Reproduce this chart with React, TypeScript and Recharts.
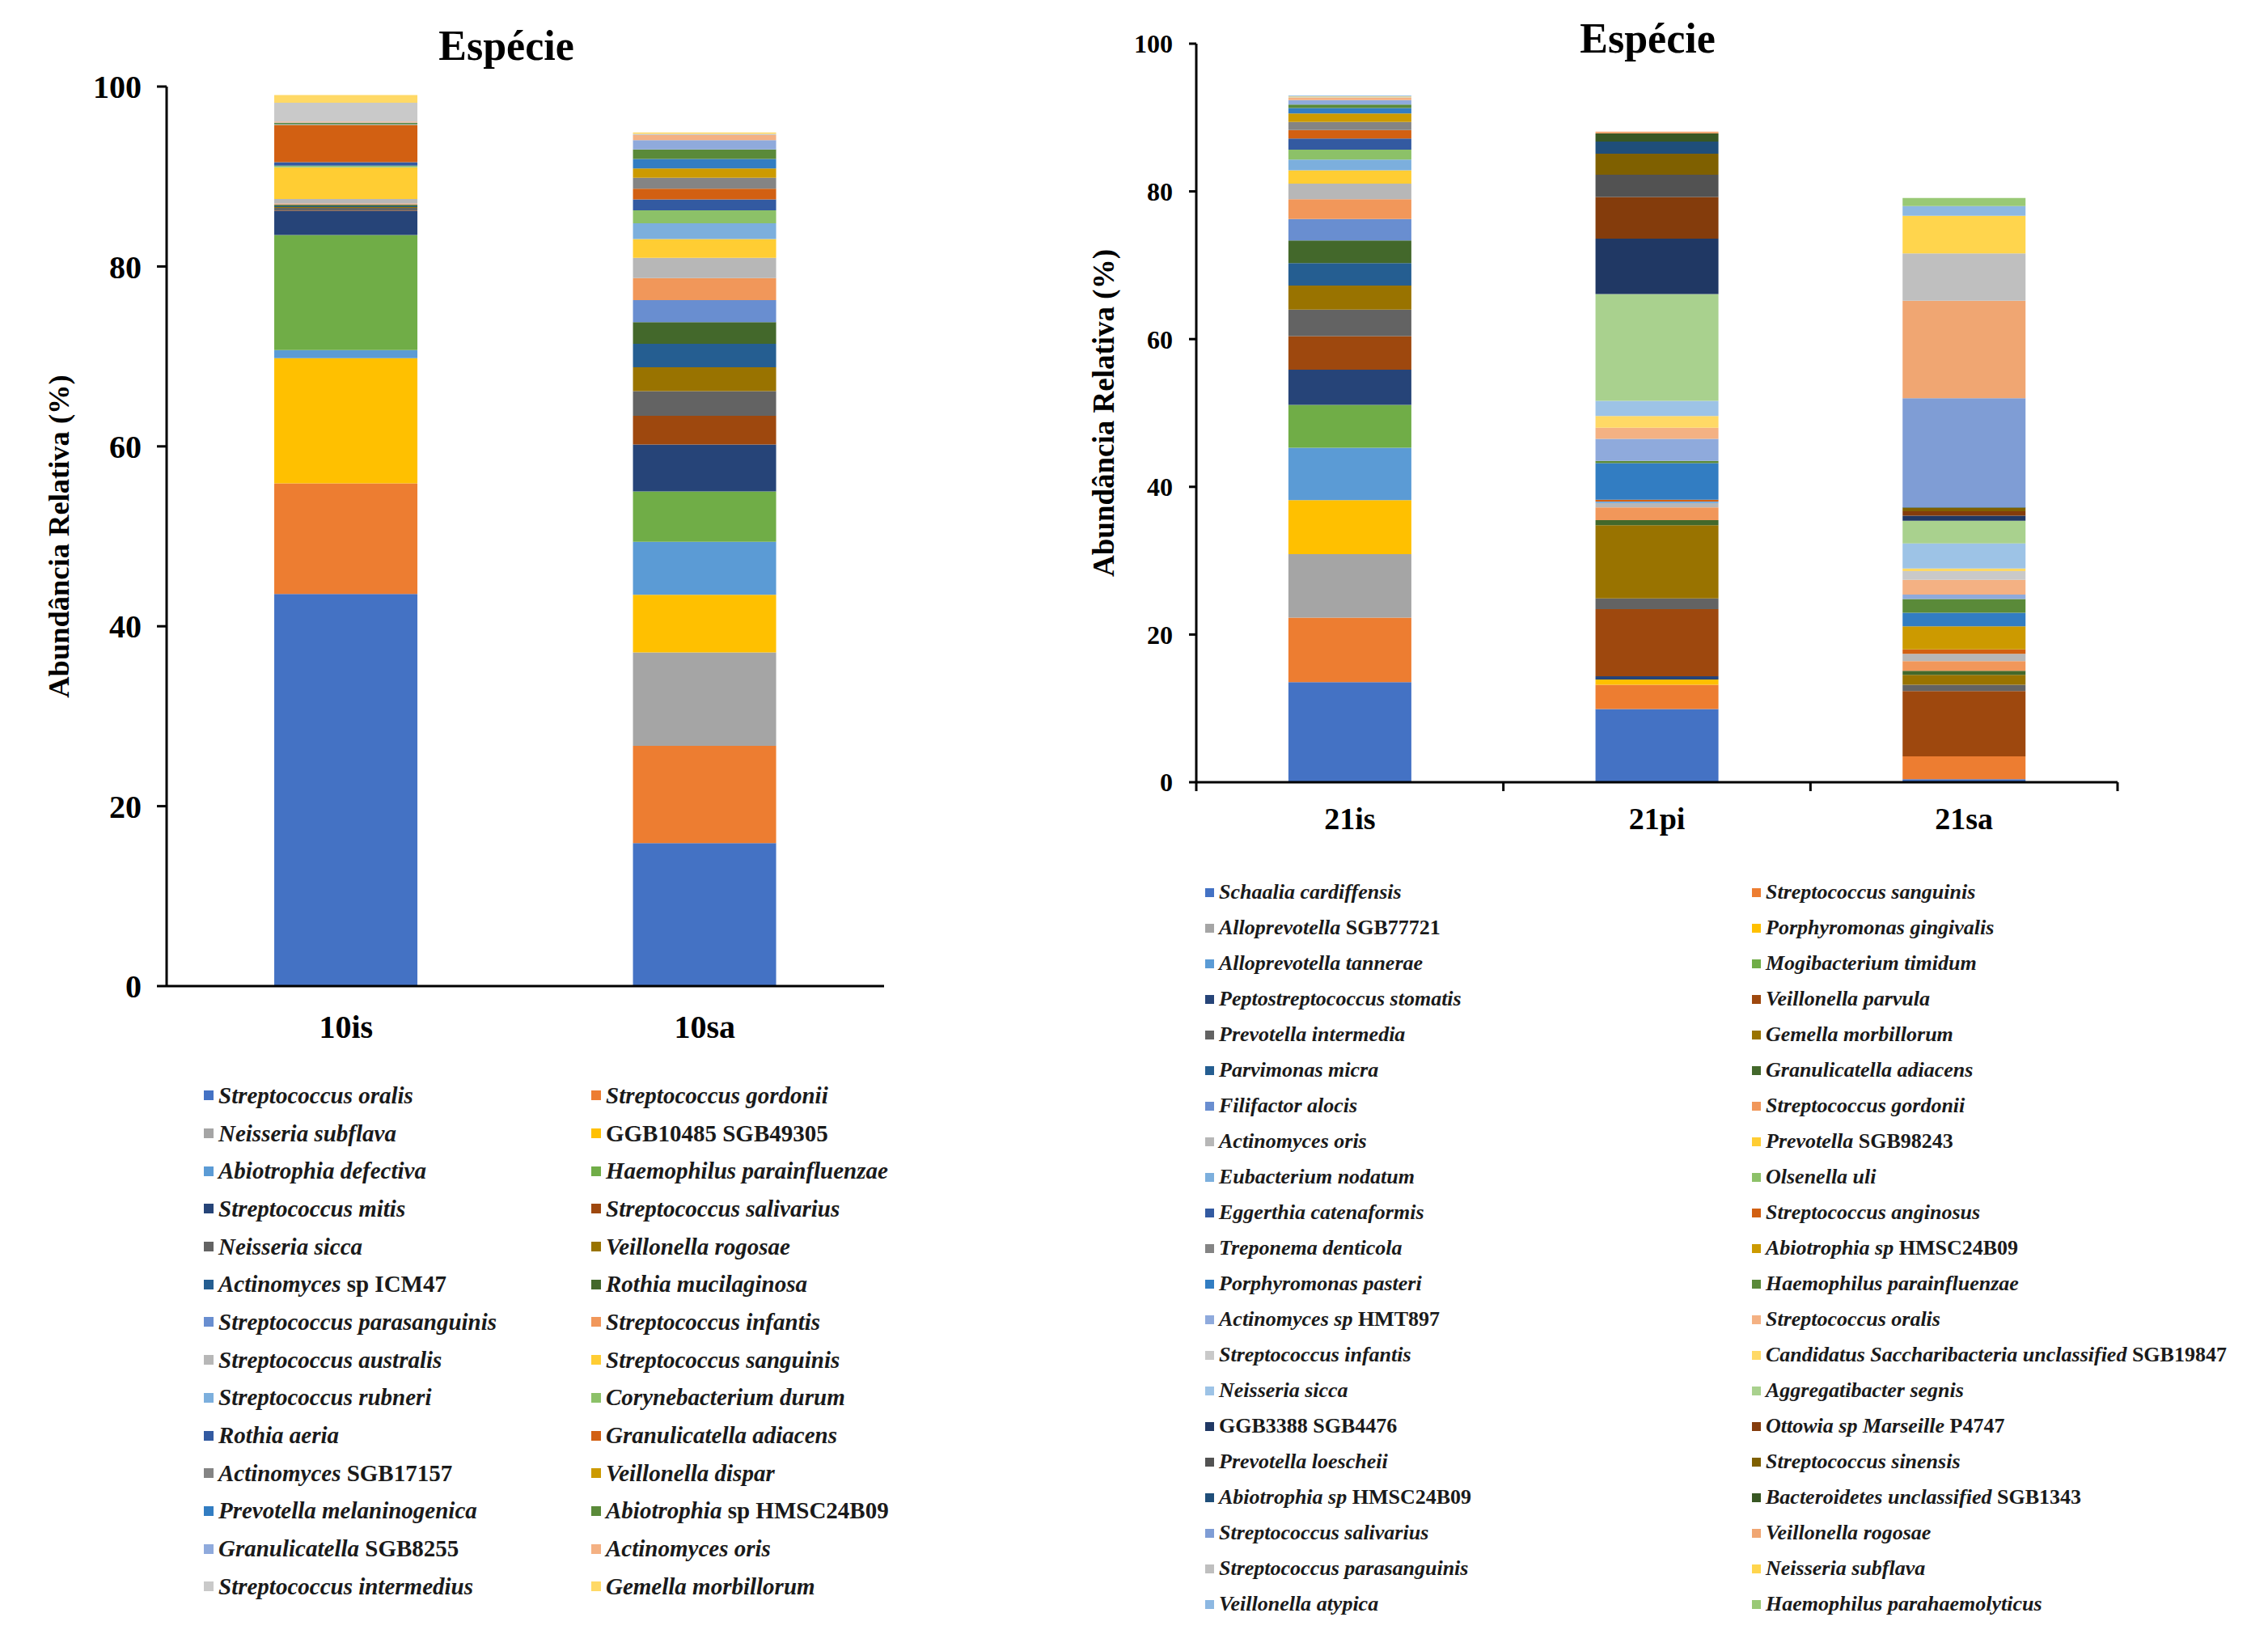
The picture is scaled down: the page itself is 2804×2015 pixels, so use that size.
import { BarChart, Bar, XAxis, YAxis, Legend } from 'recharts'

const FONT = "'Liberation Serif', 'Times New Roman', serif"

// Excel default series colours, in series order
const palette = [
  '#4472C4', '#ED7D31', '#A5A5A5', '#FFC000', '#5B9BD5', '#70AD47',
  '#264478', '#9E480E', '#636363', '#997300', '#255E91', '#43682B',
  '#698ED0', '#F1975A', '#B7B7B7', '#FFCD33', '#7CAFDD', '#8CC168',
  '#335AA1', '#D26012', '#848484', '#CC9A00', '#327DC2', '#5A8A39',
  '#8FAADC', '#F4B183', '#C9C9C9', '#FFD966', '#9DC3E6', '#A9D18E',
  '#203864', '#843C0C', '#525252', '#7F6000', '#1F4E79', '#385723',
  '#7F9DD5', '#F0A672', '#BFBFBF', '#FFD54D', '#8DB8E2', '#99C975',
]

// ---- painel esquerdo (10) ----
const leftCategories = ['10is', '10sa']
const leftSpecies = [
  'Streptococcus oralis', 'Streptococcus gordonii', 'Neisseria subflava', 'GGB10485 SGB49305',
  'Abiotrophia defectiva', 'Haemophilus parainfluenzae', 'Streptococcus mitis', 'Streptococcus salivarius',
  'Neisseria sicca', 'Veillonella rogosae', 'Actinomyces sp ICM47', 'Rothia mucilaginosa',
  'Streptococcus parasanguinis', 'Streptococcus infantis', 'Streptococcus australis', 'Streptococcus sanguinis',
  'Streptococcus rubneri', 'Corynebacterium durum', 'Rothia aeria', 'Granulicatella adiacens',
  'Actinomyces SGB17157', 'Veillonella dispar', 'Prevotella melaninogenica', 'Abiotrophia sp HMSC24B09',
  'Granulicatella SGB8255', 'Actinomyces oris', 'Streptococcus intermedius', 'Gemella morbillorum',
]
const values10is = [
  43.6, 12.3, 0, 13.9, 0.9, 12.8, 2.7, 0.05, 0.25, 0.1, 0.1, 0.15, 0.05, 0.1,
  0.5, 3.5, 0.05, 0.15, 0.4, 4.1, 0.05, 0.05, 0.05, 0.1, 0.05, 0.1, 2.1, 0.85,
]
const values10sa = [
  15.9, 10.8, 10.4, 6.4, 5.9, 5.6, 5.2, 3.2, 2.75, 2.65, 2.6, 2.4, 2.45, 2.45,
  2.25, 2.1, 1.75, 1.45, 1.2, 1.2, 1.2, 1.05, 1.05, 1.05, 1.05, 0.55, 0.15, 0.15,
]

// ---- painel direito (21) ----
const rightCategories = ['21is', '21pi', '21sa']
const rightSpecies = [
  'Schaalia cardiffensis', 'Streptococcus sanguinis', 'Alloprevotella SGB77721', 'Porphyromonas gingivalis',
  'Alloprevotella tannerae', 'Mogibacterium timidum', 'Peptostreptococcus stomatis', 'Veillonella parvula',
  'Prevotella intermedia', 'Gemella morbillorum', 'Parvimonas micra', 'Granulicatella adiacens',
  'Filifactor alocis', 'Streptococcus gordonii', 'Actinomyces oris', 'Prevotella SGB98243',
  'Eubacterium nodatum', 'Olsenella uli', 'Eggerthia catenaformis', 'Streptococcus anginosus',
  'Treponema denticola', 'Abiotrophia sp HMSC24B09', 'Porphyromonas pasteri', 'Haemophilus parainfluenzae',
  'Actinomyces sp HMT897', 'Streptococcus oralis', 'Streptococcus infantis', 'Candidatus Saccharibacteria unclassified SGB19847',
  'Neisseria sicca', 'Aggregatibacter segnis', 'GGB3388 SGB4476', 'Ottowia sp Marseille P4747',
  'Prevotella loescheii', 'Streptococcus sinensis', 'Abiotrophia sp HMSC24B09', 'Bacteroidetes unclassified SGB1343',
  'Streptococcus salivarius', 'Veillonella rogosae', 'Streptococcus parasanguinis', 'Neisseria subflava',
  'Veillonella atypica', 'Haemophilus parahaemolyticus',
]
const values21is = [
  13.55, 8.75, 8.6, 7.3, 7.1, 5.8, 4.75, 4.55, 3.6, 3.25, 3.05, 3.05, 2.9, 2.7,
  2.1, 1.8, 1.45, 1.35, 1.5, 1.15, 1.1, 1.15, 0.75, 0.45, 0.6, 0.3, 0.1, 0.1,
  0.15, 0, 0, 0, 0, 0, 0, 0, 0, 0, 0, 0, 0, 0,
]
const values21pi = [
  9.9, 3.3, 0, 0.7, 0, 0, 0.45, 9.1, 1.45, 9.9, 0, 0.7, 0, 1.7,
  0.6, 0, 0.2, 0, 0, 0.25, 0, 0, 4.95, 0.3, 3.0, 1.5, 0, 1.6,
  2.05, 14.45, 7.5, 5.65, 3.0, 2.85, 1.65, 1.1, 0, 0.25, 0, 0, 0, 0,
]
const values21sa = [
  0.4, 3.1, 0, 0, 0, 0, 0, 8.85, 0.85, 1.35, 0, 0.55, 0, 1.3,
  1.0, 0, 0, 0, 0, 0.6, 0, 3.1, 1.85, 1.85, 0.6, 2.0, 1.2, 0.35,
  3.4, 3.05, 0.7, 0.6, 0, 0.45, 0.05, 0.05, 14.75, 13.2, 6.4, 5.1, 1.3, 1.1,
]

const yTicks = [0, 20, 40, 60, 80, 100]

function buildRows(categories: string[], species: string[], series: number[][]) {
  return categories.map((c, ci) => {
    const row: Record<string, string | number> = { sample: c }
    species.forEach((_, i) => {
      row['s' + i] = series[ci][i]
    })
    return row
  })
}

const leftRows = buildRows(leftCategories, leftSpecies, [values10is, values10sa])
const rightRows = buildRows(rightCategories, rightSpecies, [values21is, values21pi, values21sa])

// chart boxes
const RIGHT_W = 1504
const RIGHT_YAXIS = 179
const RIGHT_MARGIN_R = 186
const rightBand = (RIGHT_W - RIGHT_YAXIS - RIGHT_MARGIN_R) / rightCategories.length

// códigos (SGB..., HMSC..., P4747) ficam sem itálico
function SpeciesName({ name, uprightSp }: { name: string; uprightSp: boolean }) {
  const words = name.split(' ')
  return (
    <span>
      {words.map((w, i) => {
        const upright = /^[A-Z][A-Z0-9]*\d[A-Z0-9]*$/.test(w) || (uprightSp && w === 'sp')
        return (
          <span key={i} style={{ fontStyle: upright ? 'normal' : 'italic' }}>
            {(i > 0 ? ' ' : '') + w}
          </span>
        )
      })}
    </span>
  )
}

type LegendOpts = {
  payload?: any[]
  colWidth: number
  rowHeight: number
  fontSize: number
  marker: number
  species: string[]
  uprightSp: boolean
}

function SpeciesLegend({ payload, colWidth, rowHeight, fontSize, marker, species, uprightSp }: LegendOpts) {
  const byKey = new Map((payload ?? []).map((p: any) => [String(p.dataKey), p]))
  const items = species.map((s, i) => {
    const p = byKey.get('s' + i)
    return { key: 's' + i, name: p ? p.value : s, color: p ? p.color : palette[i] }
  })
  return (
    <div
      style={{
        display: 'grid',
        gridTemplateColumns: `${colWidth}px ${colWidth}px`,
        gridAutoRows: `${rowHeight}px`,
        fontFamily: FONT,
        fontSize,
        fontWeight: 'bold',
        color: '#1a1a1a',
      }}
    >
      {items.map((it) => (
        <div key={it.key} style={{ display: 'flex', alignItems: 'center', whiteSpace: 'nowrap' }}>
          <span style={{ width: marker, height: marker, background: it.color, marginRight: 6, flex: 'none' }} />
          <SpeciesName name={it.name} uprightSp={uprightSp} />
        </div>
      ))}
    </div>
  )
}

const yTitle = (cx: number, size: number) => (props: any) => {
  const vb = props.viewBox || { y: 0, height: 0 }
  const cy = vb.y + vb.height / 2
  return (
    <text
      x={cx}
      y={cy}
      transform={`rotate(-90 ${cx} ${cy})`}
      textAnchor="middle"
      dominantBaseline="central"
      fontFamily={FONT}
      fontWeight="bold"
      fontSize={size}
      fill="#000"
    >
      Abundância Relativa (%)
    </text>
  )
}

// rótulo da categoria + marcas entre as categorias (estilo Excel)
function BetweenTick(props: any) {
  const { x, y, payload, index, visibleTicksCount } = props
  const half = rightBand / 2
  const last = index === visibleTicksCount - 1
  return (
    <g>
      <line x1={x - half} x2={x - half} y1={y} y2={y + 11} stroke="#000" strokeWidth={3} />
      {last && <line x1={x + half} x2={x + half} y1={y} y2={y + 11} stroke="#000" strokeWidth={3} />}
      <text
        x={x}
        y={y + 31}
        dy="0.71em"
        textAnchor="middle"
        fontFamily={FONT}
        fontWeight="bold"
        fontSize={38}
        fill="#000"
      >
        {payload.value}
      </text>
    </g>
  )
}

const axisLine = { stroke: '#000', strokeWidth: 3 }

function Title({ cx, cy }: { cx: number; cy: number }) {
  return (
    <div
      style={{
        position: 'absolute',
        left: cx - 200,
        top: cy - 30,
        width: 400,
        height: 60,
        lineHeight: '60px',
        textAlign: 'center',
        fontFamily: FONT,
        fontWeight: 'bold',
        fontSize: 52,
        color: '#000',
      }}
    >
      Espécie
    </div>
  )
}

export default function App() {
  return (
    <div style={{ position: 'absolute', left: 0, top: 0, width: 2804, height: 2015, background: '#fff', overflow: 'hidden' }}>
      <Title cx={626} cy={57} />
      <Title cx={2037} cy={48} />

      {/* painel esquerdo */}
      <div style={{ position: 'absolute', left: 0, top: 0 }}>
        <BarChart
          width={1300}
          height={2015}
          data={leftRows}
          margin={{ top: 107, right: 207, left: 0, bottom: 736 }}
          barCategoryGap="30%"
        >
          <XAxis
            dataKey="sample"
            height={60}
            axisLine={axisLine}
            tickLine={false}
            tickSize={0}
            tickMargin={36}
            tick={{ fontFamily: FONT, fontWeight: 'bold', fontSize: 40, fill: '#000' }}
          />
          <YAxis
            width={206}
            domain={[0, 100]}
            ticks={yTicks}
            axisLine={axisLine}
            tickLine={axisLine}
            tickSize={12}
            tickMargin={19}
            tick={{ fontFamily: FONT, fontWeight: 'bold', fontSize: 40, fill: '#000' }}
            label={yTitle(72, 36.5)}
          />
          <Legend
            layout="vertical"
            align="center"
            verticalAlign="middle"
            wrapperStyle={{ left: 252, top: 1331, bottom: 'auto', right: 'auto', width: 960 }}
            content={(p: any) => (
              <SpeciesLegend
                payload={p.payload}
                colWidth={479}
                rowHeight={46.7}
                fontSize={29}
                marker={12}
                species={leftSpecies}
                uprightSp={true}
              />
            )}
          />
          {leftSpecies.map((s, i) => (
            <Bar key={'s' + i} dataKey={'s' + i} name={s} stackId="a" fill={palette[i]} isAnimationActive={false} />
          ))}
        </BarChart>
      </div>

      {/* painel direito */}
      <div style={{ position: 'absolute', left: 1300, top: 0 }}>
        <BarChart
          width={RIGHT_W}
          height={2015}
          data={rightRows}
          margin={{ top: 54, right: RIGHT_MARGIN_R, left: 0, bottom: 988 }}
          barCategoryGap="30%"
        >
          <XAxis
            dataKey="sample"
            height={60}
            axisLine={axisLine}
            tickLine={false}
            tickSize={0}
            tickMargin={0}
            tick={<BetweenTick />}
          />
          <YAxis
            width={RIGHT_YAXIS}
            domain={[0, 100]}
            ticks={yTicks}
            axisLine={axisLine}
            tickLine={axisLine}
            tickSize={9}
            tickMargin={20}
            tick={{ fontFamily: FONT, fontWeight: 'bold', fontSize: 32, fill: '#000' }}
            label={yTitle(64, 37)}
          />
          <Legend
            layout="vertical"
            align="center"
            verticalAlign="middle"
            wrapperStyle={{ left: 190, top: 1081, bottom: 'auto', right: 'auto', width: 1400 }}
            content={(p: any) => (
              <SpeciesLegend
                payload={p.payload}
                colWidth={676}
                rowHeight={44}
                fontSize={26}
                marker={11}
                species={rightSpecies}
                uprightSp={false}
              />
            )}
          />
          {rightSpecies.map((s, i) => (
            <Bar key={'s' + i} dataKey={'s' + i} name={s} stackId="a" fill={palette[i]} isAnimationActive={false} />
          ))}
        </BarChart>
      </div>
    </div>
  )
}
